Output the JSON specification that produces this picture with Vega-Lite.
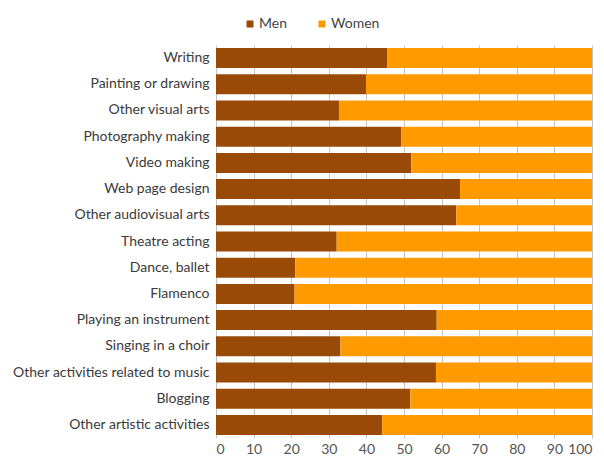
{
  "$schema": "https://vega.github.io/schema/vega-lite/v6.json",
  "width": 376,
  "height": 393,
  "autosize": {"type": "none"},
  "padding": {"left": 216, "top": 45, "right": 12, "bottom": 18},
  "background": "white",
  "data": {
    "values": [
      {"activity": "Writing", "sex": "Men", "value": 45.5},
      {"activity": "Writing", "sex": "Women", "value": 54.5},
      {"activity": "Painting or drawing", "sex": "Men", "value": 39.9},
      {"activity": "Painting or drawing", "sex": "Women", "value": 60.1},
      {"activity": "Other visual arts", "sex": "Men", "value": 32.7},
      {"activity": "Other visual arts", "sex": "Women", "value": 67.3},
      {"activity": "Photography making", "sex": "Men", "value": 49.2},
      {"activity": "Photography making", "sex": "Women", "value": 50.8},
      {"activity": "Video making", "sex": "Men", "value": 51.9},
      {"activity": "Video making", "sex": "Women", "value": 48.1},
      {"activity": "Web page design", "sex": "Men", "value": 64.9},
      {"activity": "Web page design", "sex": "Women", "value": 35.1},
      {"activity": "Other audiovisual arts", "sex": "Men", "value": 63.9},
      {"activity": "Other audiovisual arts", "sex": "Women", "value": 36.1},
      {"activity": "Theatre acting", "sex": "Men", "value": 32.1},
      {"activity": "Theatre acting", "sex": "Women", "value": 67.9},
      {"activity": "Dance, ballet", "sex": "Men", "value": 21.1},
      {"activity": "Dance, ballet", "sex": "Women", "value": 78.9},
      {"activity": "Flamenco", "sex": "Men", "value": 20.9},
      {"activity": "Flamenco", "sex": "Women", "value": 79.1},
      {"activity": "Playing an instrument", "sex": "Men", "value": 58.7},
      {"activity": "Playing an instrument", "sex": "Women", "value": 41.3},
      {"activity": "Singing in a choir", "sex": "Men", "value": 33.1},
      {"activity": "Singing in a choir", "sex": "Women", "value": 66.9},
      {"activity": "Other activities related to music", "sex": "Men", "value": 58.5},
      {"activity": "Other activities related to music", "sex": "Women", "value": 41.5},
      {"activity": "Blogging", "sex": "Men", "value": 51.7},
      {"activity": "Blogging", "sex": "Women", "value": 48.3},
      {"activity": "Other artistic activities", "sex": "Men", "value": 44.2},
      {"activity": "Other artistic activities", "sex": "Women", "value": 55.8}
    ]
  },
  "config": {
    "font": "Lato",
    "view": {"stroke": null},
    "axis": {"labelFont": "Lato", "labelFontSize": 13, "labelColor": "#444"}
  },
  "mark": {"type": "bar"},
  "encoding": {
    "y": {
      "field": "activity",
      "type": "nominal",
      "sort": null,
      "scale": {"paddingInner": 0.237, "paddingOuter": 0.118},
      "axis": {"title": null, "ticks": false, "domain": false, "labelPadding": 7, "labelColor": "#3a3a3a", "labelFontSize": 14, "labelLimit": 260}
    },
    "x": {
      "field": "value",
      "type": "quantitative",
      "stack": "zero",
      "scale": {"domain": [0, 100], "nice": false},
      "axis": {"title": null, "values": [0,10,20,30,40,50,60,70,80,90,100], "ticks": false, "domain": false, "grid": true, "gridColor": "#c4c4c4", "gridWidth": 1, "labelPadding": 4, "labelFontSize": 14, "labelColor": "#555"}
    },
    "color": {
      "field": "sex",
      "type": "nominal",
      "scale": {"domain": ["Men", "Women"], "range": ["#9A4A07", "#FF9A00"]},
      "legend": {
        "title": null,
        "orient": "none",
        "legendX": 27,
        "legendY": -28,
        "direction": "horizontal",
        "symbolType": "square",
        "symbolSize": 49,
        "symbolStrokeWidth": 0,
        "labelFontSize": 14,
        "labelColor": "#444",
        "labelOffset": 2,
        "columnPadding": 28
      }
    },
    "order": {"field": "sex", "sort": "ascending"}
  }
}
